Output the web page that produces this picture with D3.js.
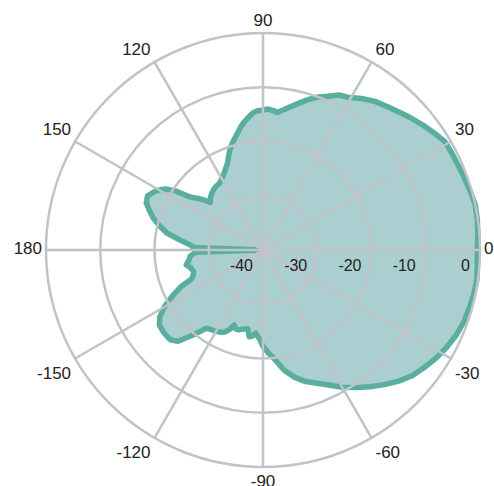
<!DOCTYPE html>
<html>
<head>
<meta charset="utf-8">
<script src="https://cdn.jsdelivr.net/npm/d3@7"></script>
<style>
  html, body { margin: 0; padding: 0; background: #fff; }
  svg { display: block; }
  text { font-family: "Liberation Sans", Arial, sans-serif; fill: #222; }
</style>
</head>
<body>
<svg id="chart" width="494" height="486"></svg>
<script>
// pattern data: angle in degrees (0 = right, counter-clockwise), gain in dB
const angles = [
  -180, -178, -175, -172, -169, -166, -163, -160, -158, -156, -153, -150, -147, -144, -140,
  -136, -133, -130, -128, -126, -123, -120, -117, -115, -113, -111, -109, -107, -104, -101,
  -99, -97, -95, -92, -90, -87, -84, -80, -76, -72, -68, -64, -60, -56, -52, -48, -44, -40,
  -36, -32, -28, -24, -20, -16, -12, -8, -4, 0, 4, 8, 12, 16, 20, 24, 28, 31, 34, 38, 42,
  45, 49, 53, 57, 61, 64, 67, 70, 72, 74, 77, 80, 82, 84, 86, 88, 90, 92, 94, 96, 98, 100,
  102, 104, 106, 108, 110, 112, 114, 116, 118, 120, 123, 126, 129, 132, 135, 138, 140, 142,
  144, 146, 148, 150, 152, 155, 158, 161, 164, 167, 170, 173, 176, 178
];
const gain = [
  -40, -27.5, -26.5, -26.2, -25.6, -26.3, -26.6, -26.3, -25.8, -23.5, -21.2, -19.0, -17.3, -16.4, -16.2,
  -16.2, -17.0, -19.3, -20.8, -22.2, -22.5, -22.7, -23.0, -23.3, -24.0, -25.2, -24.6, -24.6, -25.0, -25.2,
  -23.8, -24.0, -24.6, -23.5, -22.2, -21.0, -19.8, -17.5, -15.8, -14.5, -13.5, -12.3, -10.8, -9.4, -8.0, -6.6, -5.2, -4.0,
  -3.2, -2.4, -1.7, -1.1, -0.7, -0.5, -0.3, -0.2, -0.4, -0.5, -0.3, -0.1, 0, -0.3, -0.6, -0.8, -0.9, -1.0, -1.7, -2.6, -3.5,
  -4.2, -5.0, -5.7, -6.7, -7.8, -8.2, -9.2, -10.0, -10.6, -11.3, -12.4, -13.4, -14.0, -14.5, -14.2, -14.0, -14.2, -14.3, -14.6, -15.3, -16.0, -16.8,
  -17.8, -18.7, -19.5, -20.4, -21.5, -22.6, -23.3, -23.9, -24.4, -24.8, -25.3, -25.4, -25.6, -25.9, -26.3, -26.9, -25.5, -24.5,
  -23.4, -20.5, -18.8, -17.9, -17.2, -16.5, -16.8, -17.9, -19.0, -20.5, -22.0, -24.5, -26.5, -27.2
];
const ringTicks = [-40, -30, -20, -10, 0];
const angleTicks = [0, 30, 60, 90, 120, 150, 180, -150, -120, -90, -60, -30];

const cx = 263, cy = 250, outerR = 217;

const svg = d3.select('#chart');
const g = svg.append('g').attr('transform', `translate(${cx},${cy})`);

const r = d3.scaleLinear().domain([-40, 0]).range([0, outerR]).clamp(true);
const toRad = deg => (90 - deg) * Math.PI / 180; // d3 radial: clockwise from 12 o'clock

const points = angles.map((a, i) => ({ a, v: gain[i] }));

const line = d3.lineRadial()
  .angle(d => toRad(d.a))
  .radius(d => r(d.v))
  .curve(d3.curveLinearClosed);

g.append('path')
  .attr('d', line(points))
  .style('fill', '#abcfd0')
  .style('stroke', '#5aae9e')
  .style('stroke-width', 5.5)
  .style('stroke-linejoin', 'round');

// grid
const gridColor = '#c0c3c9';
g.selectAll('.ring')
  .data(ringTicks.filter(t => t > -40))
  .enter().append('circle')
  .attr('r', d => r(d))
  .style('fill', 'none')
  .style('stroke', gridColor)
  .style('stroke-width', 2.5);

g.selectAll('.spoke')
  .data(angleTicks)
  .enter().append('line')
  .attr('x1', 0).attr('y1', 0)
  .attr('x2', d => outerR * Math.cos(d * Math.PI / 180))
  .attr('y2', d => -outerR * Math.sin(d * Math.PI / 180))
  .style('stroke', gridColor)
  .style('stroke-width', 2.5);

// radial tick labels along the 0 axis
g.selectAll('.rlabel')
  .data(ringTicks)
  .enter().append('text')
  .attr('x', d => r(d) - 10)
  .attr('y', 21)
  .attr('text-anchor', 'end')
  .style('font-size', '16px')
  .text(d => d);

// angular labels
g.selectAll('.alabel')
  .data(angleTicks)
  .enter().append('text')
  .each(function(d) {
    const rad = d * Math.PI / 180;
    const c = Math.cos(rad), s = Math.sin(rad);
    const x = outerR * c, y = -outerR * s;
    const t = d3.select(this);
    let anchor = 'middle', dx = 0;
    if (c > 0.1) { anchor = 'start'; dx = 4; }
    else if (c < -0.1) { anchor = 'end'; dx = -4; }
    let baseline = 'middle', dy = 0;
    if (s > 0.1) { baseline = 'auto'; dy = -7; }
    else if (s < -0.1) { baseline = 'hanging'; dy = 8; }
    t.attr('x', x + dx).attr('y', y + dy)
      .attr('text-anchor', anchor)
      .attr('dominant-baseline', baseline);
  })
  .style('font-size', '17px')
  .text(d => d);
</script>
</body>
</html>
